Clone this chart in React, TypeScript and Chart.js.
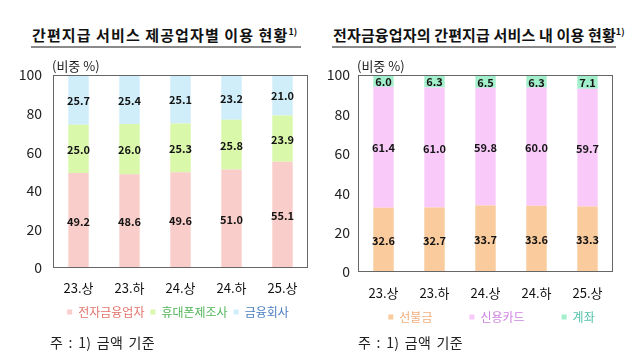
import React, { useEffect, useRef } from "react";
import { Chart, registerables } from "chart.js";

Chart.register(...registerables);

const FONT = "'Noto Sans CJK KR', 'Noto Sans', sans-serif";

// ---- data ----
const periods = ["23.상", "23.하", "24.상", "24.하", "25.상"];
const leftSeriesNames = ["전자금융업자", "휴대폰제조사", "금융회사"];
const efinanceShare = [49.2, 48.6, 49.6, 51.0, 55.1];
const phoneMakerShare = [25.0, 26.0, 25.3, 25.8, 23.9];
const financialCoShare = [25.7, 25.4, 25.1, 23.2, 21.0];
const rightSeriesNames = ["선불금", "신용카드", "계좌"];
const prepaidShare = [32.6, 32.7, 33.7, 33.6, 33.3];
const creditCardShare = [61.4, 61.0, 59.8, 60.0, 59.7];
const accountShare = [6.0, 6.3, 6.5, 6.3, 7.1];
const yTickMax = 100;
const yTickStep = 20;

const leftFill = ["#F9CDC9", "#D9F8AA", "#CFEEFA"];
const leftText = ["#E2736B", "#52B65A", "#4A7DC0"];
const rightFill = ["#FACB9C", "#F9CAF9", "#A2EFCB"];
const rightText = ["#F0AE7C", "#CF82E2", "#4EC0A8"];

const CANVAS_H = 360;
const LEGEND_FONT = 12;

const valueLabels = {
  id: "valueLabels",
  afterDatasetsDraw(chart: any) {
    const ctx = chart.ctx;
    ctx.save();
    ctx.font = `bold 11px ${FONT}`;
    ctx.fillStyle = "#141414";
    ctx.textAlign = "center";
    ctx.textBaseline = "middle";
    chart.data.datasets.forEach((ds: any, di: number) => {
      const meta = chart.getDatasetMeta(di);
      meta.data.forEach((el: any, i: number) => {
        const p = el.getProps(["x", "y", "base"], true);
        ctx.fillText(Number(ds.data[i]).toFixed(1), p.x, (p.y + p.base) / 2 + 1);
      });
    });
    ctx.restore();
  },
};

const frame = {
  id: "frame",
  afterDatasetsDraw(chart: any) {
    const { ctx, chartArea } = chart;
    ctx.save();
    ctx.strokeStyle = "#666666";
    ctx.lineWidth = 1;
    ctx.strokeRect(
      Math.round(chartArea.left) + 0.5,
      Math.round(chartArea.top) + 0.5,
      Math.round(chartArea.right - chartArea.left) - 1,
      Math.round(chartArea.bottom - chartArea.top) - 1
    );
    ctx.restore();
  },
};

// moves the legend row so its text sits at a given vertical centre (and optional x shift)
const legendRow = {
  id: "legendRow",
  afterLayout(chart: any, _args: any, opts: any) {
    const lg = chart.legend;
    if (!lg || opts.textY == null) return;
    const lab = lg.options.labels;
    const size = Math.max(lab.font?.size ?? 12, lab.boxHeight ?? 12);
    const newTop = opts.textY - lab.padding - size / 2;
    const dy = newTop - lg.top;
    lg.top += dy;
    lg.bottom += dy;
    const dx = opts.dx || 0;
    lg.left += dx;
    lg.right += dx;
  },
};

function makeConfig(
  names: string[],
  series: number[][],
  fills: string[],
  texts: string[],
  o: {
    yWidth: number;
    rightPad: number;
    plotBottom: number;
    xPad: number;
    yPad: number;
    legendPad: number;
    legendY: number;
    legendDx: number;
  }
): any {
  const legendHeight = LEGEND_FONT + o.legendPad + 10;
  const xHeight = CANVAS_H - legendHeight - o.plotBottom;
  return {
    type: "bar",
    data: {
      labels: periods,
      datasets: names.map((n, i) => ({
        label: n,
        data: series[i],
        backgroundColor: fills[i],
        borderWidth: 0,
        barPercentage: 0.4,
        categoryPercentage: 1,
      })),
    },
    options: {
      animation: false,
      responsive: false,
      maintainAspectRatio: false,
      layout: { padding: { top: 75, right: o.rightPad, left: 0, bottom: 0 } },
      scales: {
        x: {
          stacked: true,
          grid: { display: false, drawTicks: false },
          border: { display: false },
          ticks: { color: "#111", font: { family: FONT, size: 13 }, padding: o.xPad },
          afterFit: (s: any) => {
            s.height = xHeight;
          },
        },
        y: {
          stacked: true,
          min: 0,
          max: yTickMax,
          grid: { display: false, drawTicks: false },
          border: { display: false },
          ticks: { stepSize: yTickStep, color: "#222", font: { family: FONT, size: 14 }, padding: o.yPad },
          afterFit: (s: any) => {
            s.width = o.yWidth;
          },
        },
      },
      plugins: {
        tooltip: { enabled: false },
        legendRow: { textY: o.legendY, dx: o.legendDx },
        legend: {
          position: "bottom",
          labels: {
            boxWidth: 5,
            boxHeight: 5,
            padding: o.legendPad,
            font: { family: FONT, size: LEGEND_FONT },
            generateLabels: (chart: any) =>
              chart.data.datasets.map((ds: any, i: number) => ({
                text: ds.label,
                fillStyle: fills[i],
                strokeStyle: fills[i],
                lineWidth: 0,
                fontColor: texts[i],
                hidden: false,
                datasetIndex: i,
              })),
          },
        },
      },
    },
    plugins: [valueLabels, frame, legendRow],
  };
}

function ChartCanvas({ config, width, height, left }: any) {
  const ref = useRef<HTMLCanvasElement>(null);
  useEffect(() => {
    const c = new Chart(ref.current as HTMLCanvasElement, config);
    return () => c.destroy();
  }, []);
  return (
    <canvas
      ref={ref}
      width={width}
      height={height}
      style={{ position: "absolute", left, top: 0, width, height }}
    />
  );
}

const titleStyle: React.CSSProperties = {
  position: "absolute",
  top: 22,
  fontFamily: FONT,
  fontWeight: 700,
  fontSize: 15,
  color: "#111",
  whiteSpace: "nowrap",
  lineHeight: "20px",
};

const smallText: React.CSSProperties = {
  position: "absolute",
  fontFamily: FONT,
  fontSize: 13,
  color: "#222",
  whiteSpace: "nowrap",
  lineHeight: "16px",
};

const noteStyle: React.CSSProperties = {
  ...smallText,
  fontSize: 14,
  top: 334,
  letterSpacing: "0.3px",
  wordSpacing: "2px",
};

export default function App() {
  const leftConfig = makeConfig(
    leftSeriesNames,
    [efinanceShare, phoneMakerShare, financialCoShare],
    leftFill,
    leftText,
    { yWidth: 53, rightPad: 12, plotBottom: 268, xPad: 12, yPad: 11, legendPad: 6, legendY: 312, legendDx: 24 }
  );
  const rightConfig = makeConfig(
    rightSeriesNames,
    [prepaidShare, creditCardShare, accountShare],
    rightFill,
    rightText,
    { yWidth: 38, rightPad: 27, plotBottom: 272, xPad: 13, yPad: 8, legendPad: 37, legendY: 317, legendDx: 25 }
  );
  return (
    <div
      style={{
        position: "fixed",
        left: 0,
        top: 0,
        width: 640,
        height: 360,
        background: "#fff",
        overflow: "hidden",
      }}
    >
      <div style={{ ...titleStyle, left: 32, letterSpacing: "1.1px" }}>
        간편지급 서비스 제공업자별 이용 현황<sup style={{ fontSize: 9, letterSpacing: 0 }}>1)</sup>
      </div>
      <div style={{ position: "absolute", left: 31, top: 46, width: 270, height: 2, background: "#8a8a8a" }} />
      <div style={{ ...titleStyle, left: 333, letterSpacing: "0.15px" }}>
        전자금융업자의 간편지급 서비스 내 이용 현황<sup style={{ fontSize: 9, letterSpacing: 0 }}>1)</sup>
      </div>
      <div style={{ position: "absolute", left: 332, top: 46, width: 284, height: 2, background: "#8a8a8a" }} />

      <ChartCanvas config={leftConfig} width={320} height={CANVAS_H} left={0} />
      <ChartCanvas config={rightConfig} width={320} height={CANVAS_H} left={320} />

      <div style={{ ...smallText, left: 52, top: 58 }}>(비중 %)</div>
      <div style={{ ...smallText, left: 357, top: 58 }}>(비중 %)</div>

      <div style={{ ...noteStyle, left: 50 }}>주 : 1) 금액 기준</div>
      <div style={{ ...noteStyle, left: 358 }}>주 : 1) 금액 기준</div>
    </div>
  );
}
